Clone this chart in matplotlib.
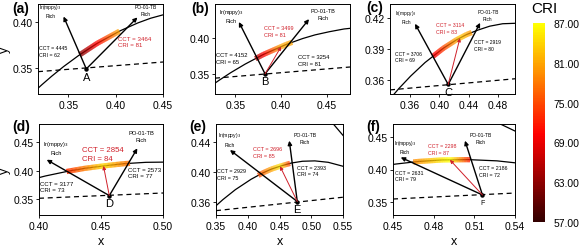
import numpy as np
import matplotlib
matplotlib.use('Agg')
import matplotlib.pyplot as plt
from matplotlib.collections import LineCollection
from matplotlib.colors import ListedColormap, Normalize
from matplotlib.cm import ScalarMappable

plt.rcParams['font.family'] = ['Liberation Sans', 'DejaVu Sans']

# Planckian locus, CIE 1931 (x ascending)
locus_x = [0.3064, 0.3135, 0.3221, 0.3324, 0.3451, 0.3608, 0.3805, 0.4053,
           0.4234, 0.4369, 0.4525, 0.4685, 0.4862, 0.5056, 0.5267, 0.5497, 0.5857]
locus_y = [0.3166, 0.3237, 0.3318, 0.3410, 0.3516, 0.3635, 0.3768, 0.3907,
           0.3990, 0.4041, 0.4085, 0.4123, 0.4147, 0.4152, 0.4133, 0.4081, 0.3931]
# spectrum locus near 580-590 nm
spec_x = [0.5125, 0.5448, 0.5752]
spec_y = [0.4866, 0.4544, 0.4242]

tags = ['(a)', '(b)', '(c)', '(d)', '(e)', '(f)']
names = ['A', 'B', 'C', 'D', 'E', 'F']
pt_x = [0.369, 0.3825, 0.412, 0.4567, 0.478, 0.516]
pt_y = [0.349, 0.350, 0.3553, 0.356, 0.361, 0.3608]

# arrow tips: Ir(mppy)3 rich / PO-01-TB rich
ir_x = [0.345, 0.354, 0.3668, 0.4062, 0.372, 0.4557]
ir_y = [0.406, 0.422, 0.4147, 0.4193, 0.4297, 0.4187]
po_x = [0.423, 0.4304, 0.4555, 0.4793, 0.4654, 0.5031]
po_y = [0.405, 0.426, 0.4156, 0.4394, 0.4421, 0.4443]

# dashed line end values (at the x limits)
dash_y0 = [0.346, 0.344, 0.350, 0.3513, 0.3488, 0.3546]
dash_y1 = [0.3565, 0.3595, 0.3609, 0.3606, 0.3667, 0.3638]

# CCT / CRI values
cct_left = [4445, 4152, 3706, 3177, 2929, 2631]
cri_left = [62, 65, 69, 73, 75, 79]
cct_best = [3464, 3499, 3114, 2854, 2696, 2298]
cri_best = [81, 81, 83, 84, 85, 87]
cct_right = [None, 3254, 2919, 2573, 2393, 2186]
cri_right = [81, 81, 80, 77, 74, 72]

# colored segment on the locus (x of start, optimum, end)
seg_start = [0.362, 0.372, 0.391, 0.4223, 0.4166, 0.465]
seg_best = [0.404, 0.400, 0.428, 0.452, 0.4508, 0.492]
seg_end = [0.404, 0.412, 0.444, 0.4734, 0.4665, 0.5068]

xlims = [(0.318, 0.45), (0.328, 0.475), (0.3327, 0.503),
         (0.40, 0.50), (0.35, 0.55), (0.45, 0.54)]
ylims = [(0.3217, 0.4196), (0.322, 0.447), (0.346, 0.434),
         (0.3218, 0.4823), (0.343, 0.4644), (0.33, 0.47)]
xticks = [[0.35, 0.40, 0.45], [0.35, 0.40, 0.45], [0.36, 0.40, 0.44, 0.48],
          [0.40, 0.45, 0.50], [0.35, 0.40, 0.45, 0.50, 0.55], [0.45, 0.48, 0.51, 0.54]]
yticks = [[0.35, 0.40], [0.35, 0.40], [0.36, 0.39, 0.42],
          [0.35, 0.40, 0.45], [0.36, 0.40, 0.44], [0.35, 0.40, 0.45]]

# text positions
ir_lab = [(0.331, 0.413), (0.3455, 0.432), (0.3545, 0.422), (0.4137, 0.4417), (0.372, 0.445), (0.4588, 0.4362)]
po_lab = [(0.432, 0.413), (0.4456, 0.433), (0.466, 0.423), (0.4823, 0.461), (0.490, 0.4457), (0.5150, 0.4485)]
left_lab = [(0.319, 0.3685), (0.329, 0.372), (0.339, 0.3825), (0.4008, 0.3721), (0.3516, 0.398), (0.4515, 0.3905)]
best_lab = [(0.403, 0.379), (0.3814, 0.4095), (0.3955, 0.4107), (0.4347, 0.4294), (0.4083, 0.427), (0.4758, 0.4315)]
right_lab = [None, (0.418, 0.369), (0.4473, 0.3942), (0.4718, 0.3968), (0.4776, 0.4024), (0.5134, 0.3981)]
black_fs = [3.8, 4.2, 3.6, 4.4, 3.9, 3.8]
red_fs = [4.4, 4.0, 3.8, 5.6, 4.0, 3.8]
name_fs = [8, 8, 8, 8, 8, 5]

# axes rectangles in pixels (left, top, right, bottom) on 580x251
boxes = [(38, 5, 163, 95), (215, 5, 350, 95), (390, 5, 515, 95),
         (39, 125, 163, 216), (216, 125, 343, 216), (393, 125, 515, 216)]
tag_pos = [(12, 9), (191, 9), (366, 8), (12, 127), (189, 127), (366, 127)]

W, H = 580, 251
fig = plt.figure(figsize=(W / 100, H / 100), dpi=100)
cmap = ListedColormap(plt.cm.hot(np.linspace(0.06, 0.75, 256)))
norm = Normalize(57, 87)
red = '#d0202a'

for i in range(6):
    l, t, r, b = boxes[i]
    ax = fig.add_axes([l / W, 1 - b / H, (r - l) / W, (b - t) / H])
    ax.set_xlim(*xlims[i])
    ax.set_ylim(*ylims[i])
    ax.set_xticks(xticks[i])
    ax.set_yticks(yticks[i])
    ax.xaxis.set_major_formatter('{x:.2f}')
    ax.yaxis.set_major_formatter('{x:.2f}')
    ax.tick_params(labelsize=7.5, length=2, width=0.6, pad=2)
    for s in ax.spines.values():
        s.set_linewidth(0.7)

    ax.plot(locus_x, locus_y, color='black', lw=0.9)
    ax.plot(spec_x, spec_y, color='black', lw=0.9)
    ax.plot(xlims[i], [dash_y0[i], dash_y1[i]], color='black', lw=0.9, ls=(0, (4, 3)))

    # colored segment
    xs = np.linspace(seg_start[i], seg_end[i], 80)
    ys = np.interp(xs, locus_x, locus_y)
    nx = [seg_start[i], seg_best[i], seg_end[i] + 1e-6]
    nc = [cri_left[i], cri_best[i], cri_right[i]]
    cs = np.interp(xs, nx, nc)
    pts = np.column_stack([xs, ys]).reshape(-1, 1, 2)
    segs = np.concatenate([pts[:-1], pts[1:]], axis=1)
    lc = LineCollection(segs, cmap=cmap, norm=norm, linewidths=3.8, capstyle='butt')
    lc.set_array((cs[:-1] + cs[1:]) / 2)
    ax.add_collection(lc)

    p = (pt_x[i], pt_y[i])
    ap = dict(arrowstyle='-|>', color='black', lw=1.0, mutation_scale=6, shrinkA=0, shrinkB=0)
    ax.annotate('', xy=(ir_x[i], ir_y[i]), xytext=p, arrowprops=ap)
    ax.annotate('', xy=(po_x[i], po_y[i]), xytext=p, arrowprops=ap)
    if i > 0:
        bx = seg_best[i]
        by = np.interp(bx, locus_x, locus_y)
        ax.annotate('', xy=(bx, by), xytext=p,
                    arrowprops=dict(arrowstyle='-|>', color=red, lw=0.7,
                                    mutation_scale=5, shrinkA=0, shrinkB=0))
    ax.plot(*p, 'o', color='black', ms=2.2)
    dy = (ylims[i][1] - ylims[i][0]) * 0.085
    ax.text(p[0], p[1] - dy, names[i], ha='center', va='center', fontsize=name_fs[i])

    ax.text(*ir_lab[i], 'Ir(mppy)$_3$\nRich', ha='center', va='center',
            fontsize=black_fs[i] * 0.95, linespacing=1.6)
    ax.text(*po_lab[i], 'PO-01-TB\nRich', ha='center', va='center',
            fontsize=black_fs[i] * 0.95, linespacing=1.6)
    ax.text(*left_lab[i], f'CCT = {cct_left[i]}\nCRI = {cri_left[i]}', ha='left',
            va='center', fontsize=black_fs[i], linespacing=1.4)
    ax.text(*best_lab[i], f'CCT = {cct_best[i]}\nCRI = {cri_best[i]}', ha='left',
            va='center', fontsize=red_fs[i], color=red, linespacing=1.4)
    if cct_right[i] is not None:
        ax.text(*right_lab[i], f'CCT = {cct_right[i]}\nCRI = {cri_right[i]}', ha='left',
                va='center', fontsize=black_fs[i], linespacing=1.4)

    if i in (0, 3):
        ax.set_ylabel('y', fontsize=9)
        ax.yaxis.set_label_coords((11 - l) / (r - l), 0.5)
    if i >= 3:
        ax.set_xlabel('x', fontsize=9, labelpad=3)
    fig.text(tag_pos[i][0] / W, 1 - tag_pos[i][1] / H, tags[i], fontsize=10,
             fontweight='bold', ha='left', va='center')

cax = fig.add_axes([533 / W, 1 - 223 / H, 12 / W, 199 / H])
cb = fig.colorbar(ScalarMappable(norm=norm, cmap=cmap), cax=cax,
                  ticks=[57, 63, 69, 75, 81, 87], format='%.2f')
cb.outline.set_visible(False)
cax.tick_params(length=0, labelsize=7.5, pad=6)
fig.text(544 / W, 1 - 9 / H, 'CRI', fontsize=11, ha='center', va='center')

fig.savefig('out.png', dpi=100)
